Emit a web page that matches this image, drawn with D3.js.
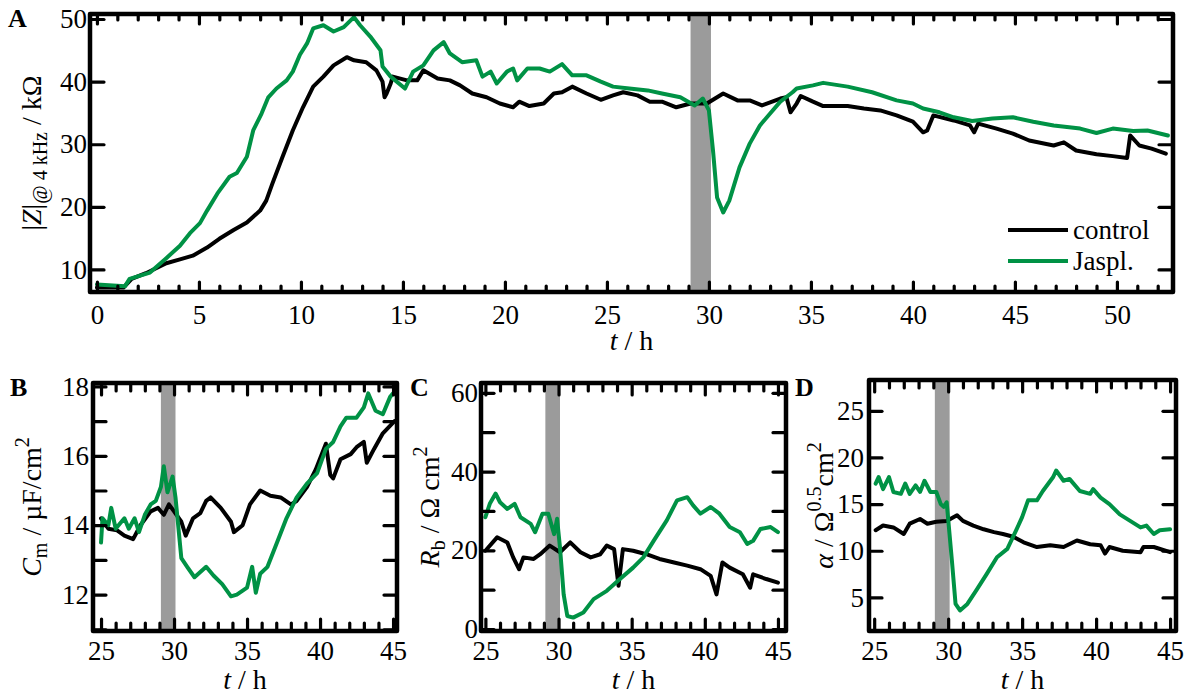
<!DOCTYPE html>
<html>
<head>
<meta charset="utf-8">
<script src="https://cdn.jsdelivr.net/npm/d3@7"></script>
<style>
  body { margin: 0; background: #fff; }
</style>
</head>
<body>
<svg id="fig" width="1186" height="691"></svg>
<script>
// ---- Panel A: |Z| at 4 kHz over the whole run (t in h, value in kΩ)
const zControl = [
  [0,7.1],[1.3,7.1],[1.7,8.5],[2.4,9.4],[3.4,11],[4.07,11.6],[4.7,12.2],[5.4,13.5],[6.0,14.9],
  [6.7,16.3],[7.35,17.5],[8.0,19.4],[8.3,21],[8.6,23.7],[9.1,28],[9.6,32.2],[10.1,35.9],[10.6,39.2],
  [11.1,40.8],[11.6,42.6],[12.25,43.9],[12.6,43.4],[13.2,43.1],[13.7,41.8],[14.0,40],[14.1,37.5],
  [14.2,38.1],[14.4,39.7],[14.5,40.8],[15.2,40.2],[15.7,40.2],[16.0,41.8],[16.7,40.5],[17.3,40.2],
  [17.8,39.4],[18.4,38.1],[19.1,37.5],[19.75,36.5],[20.4,35.9],[20.7,36.8],[21.2,36.1],[21.9,36.5],
  [22.4,38.1],[22.8,38.3],[23.3,39.2],[24.0,38.1],[24.7,37.1],[25.3,37.8],[25.8,38.3],[26.5,37.8],
  [27.1,36.8],[27.7,36.8],[28.4,35.9],[29.1,36.5],[29.9,36.5],[30.7,38.1],[31.4,37],[32.0,37],
  [32.6,36.2],[33.5,37.3],[33.8,37.5],[34.0,35.1],[34.3,36.5],[34.5,37.7],[35.1,36.8],[35.6,36.1],
  [36.8,36.1],[37.6,35.7],[38.4,35.4],[39.2,34.6],[40.0,33.6],[40.5,31.9],[40.7,32.2],[41.0,34.6],
  [42.0,33.8],[42.8,33],[43.0,31.9],[43.2,33.3],[44.1,32.5],[44.9,31.7],[45.7,30.6],[46.9,29.8],
  [47.4,30.3],[48.0,29],[49.0,28.4],[49.8,28.1],[50.5,27.8],[50.65,31.4],[51.1,29.8],[51.7,29.3],
  [52.4,28.5]
];
const zJaspl = [
  [0,7.6],[1.37,7.3],[1.6,8.5],[2.6,9.5],[3.4,11.8],[4.07,13.8],[4.56,15.8],[5.05,17.4],[5.4,19.4],
  [5.9,22.1],[6.5,24.8],[6.86,25.4],[7.35,28],[7.66,32.2],[8.07,34.9],[8.4,37.5],[8.8,38.9],
  [9.3,40.2],[9.6,41.6],[9.95,44.3],[10.3,46.1],[10.6,48.5],[11.1,49],[11.6,48],[12.1,48.7],
  [12.6,50.3],[12.9,49],[13.4,47.2],[13.9,45],[14.0,42.4],[14.4,40.8],[15.1,38.9],[15.5,41.6],
  [16.0,42.6],[16.5,45],[17.0,46.3],[17.3,44.5],[17.9,43.1],[18.6,43.4],[18.9,40.8],[19.3,41.6],
  [19.6,39.7],[20.1,41.6],[20.4,42.1],[20.6,40.2],[21.1,42.1],[21.7,42.1],[22.2,41.6],[22.8,42.8],
  [23.3,41],[24.0,41],[24.7,40],[25.3,39.2],[26.1,38.9],[27.0,38.6],[27.7,38.1],[28.6,37.5],
  [29.3,36.2],[29.7,37.3],[30.0,35.4],[30.2,29],[30.4,21.5],[30.7,19.1],[31.0,21],[31.5,26.3],
  [32.0,30.1],[32.5,33],[33.0,34.9],[33.5,36.8],[34.1,38.3],[34.3,38.9],[35.1,39.4],[35.6,39.8],
  [36.8,39.2],[38.0,38.3],[39.2,37],[40.0,36.5],[40.5,35.7],[41.3,35.1],[42.0,34.3],[42.9,33.7],
  [43.9,34.1],[44.9,34.3],[45.9,33.6],[46.9,33],[48.2,32.5],[49.0,31.8],[49.8,32.5],[50.8,32.1],
  [51.5,32.2],[52.5,31.4]
];

// ---- Panel B: membrane capacitance Cm (µF/cm²)
const cmControl = [
  [25,14.2],[25.5,13.9],[26.1,13.85],[26.6,13.7],[27.2,13.6],[27.7,14.0],[28.4,14.4],[28.9,14.5],
  [29.3,14.3],[29.65,14.6],[30.0,14.4],[30.5,14.1],[30.8,13.7],[31.3,14.2],[31.8,14.35],[32.2,14.7],
  [32.5,14.8],[33.2,14.5],[33.9,14.1],[34.1,13.8],[34.7,14.0],[35.2,14.6],[35.9,15.0],[36.6,14.85],
  [37.3,14.8],[38.0,14.6],[38.4,14.7],[39.1,15.1],[39.7,15.6],[40.4,16.35],[40.7,15.45],[40.9,15.35],
  [41.4,15.9],[42.1,16.05],[42.5,16.25],[43.0,16.4],[43.2,15.8],[43.7,16.2],[44.3,16.65],[45.1,17.0]
];
const cmJaspl = [
  [25,13.5],[25.1,14.2],[25.5,14.0],[25.7,14.5],[26.0,13.9],[26.6,14.2],[26.9,13.9],[27.3,14.2],
  [27.6,13.8],[28.0,14.3],[28.4,14.6],[28.75,14.7],[29.1,15.1],[29.3,15.7],[29.55,14.95],[29.9,15.4],
  [30.1,14.8],[30.5,13.05],[30.9,12.8],[31.4,12.5],[32.2,12.8],[32.7,12.55],[33.3,12.3],[33.9,11.95],
  [34.3,12.0],[35.0,12.2],[35.35,12.8],[35.6,12.05],[35.9,12.6],[36.4,12.8],[37.1,13.55],[37.7,14.2],
  [38.4,14.8],[39.1,15.2],[39.8,15.5],[40.4,16.2],[40.9,16.4],[41.4,16.85],[41.8,17.1],[42.5,17.1],
  [43.0,17.4],[43.3,17.8],[43.8,17.3],[44.3,17.2],[44.8,17.7],[45.0,17.8]
];

// ---- Panel C: barrier resistance Rb (Ω cm²)
const rbControl = [
  [25,19.9],[25.8,23.3],[26.5,22.0],[26.9,18.2],[27.3,15.2],[27.6,18.2],[28.3,17.8],[28.75,19.0],
  [29.4,21.2],[30.1,19.5],[30.8,22.0],[31.5,19.5],[32.2,18.2],[32.85,19.0],[33.3,21.2],[33.8,20.3],
  [34.1,11.0],[34.4,20.3],[35.1,19.9],[36.0,19.0],[36.9,17.8],[37.9,16.9],[38.8,16.1],[39.7,15.2],
  [40.4,13.5],[40.8,8.8],[41.2,16.9],[41.7,15.6],[42.6,13.9],[43.1,10.5],[43.3,13.9],[44.2,12.7],
  [45.0,11.8]
];
const rbJaspl = [
  [25,28.4],[25.3,31.8],[25.7,34.4],[26.0,32.2],[26.5,30.5],[27.0,31.8],[27.4,28.4],[28.1,26.7],
  [28.4,24.6],[28.9,29.3],[29.3,29.3],[29.7,24.1],[29.9,28.0],[30.1,20.7],[30.35,8.8],[30.6,3.3],
  [31.0,2.9],[31.7,4.2],[32.4,7.6],[33.3,9.7],[34.2,12.7],[35.1,15.6],[35.8,18.2],[36.5,22.4],
  [37.4,27.6],[38.1,32.7],[38.8,33.5],[39.2,31.4],[39.7,29.3],[40.4,31.0],[41.0,29.3],[41.7,25.9],
  [42.4,24.6],[42.9,21.6],[43.3,22.4],[43.8,25.4],[44.5,25.9],[45.0,24.6]
];

// ---- Panel D: alpha (Ω^0.5 cm²)
const alphaControl = [
  [25.1,12.2],[25.6,12.7],[26.3,12.5],[27.0,11.8],[27.4,12.9],[28.1,13.4],[28.6,12.9],[29.2,13.1],
  [29.9,13.2],[30.6,13.8],[31.0,13.2],[31.7,12.7],[32.4,12.3],[33.1,12.0],[33.7,11.8],[34.4,11.5],
  [35.1,10.9],[36.0,10.4],[36.9,10.6],[37.8,10.4],[38.7,11.1],[39.6,10.7],[40.3,10.6],[40.6,9.7],
  [40.9,10.4],[41.8,10.0],[43.0,9.85],[43.2,10.4],[43.9,10.4],[45.0,9.85]
];
const alphaJaspl = [
  [25.1,17.2],[25.3,17.9],[25.6,16.6],[26.0,17.9],[26.3,16.3],[26.8,16.1],[27.1,17.2],[27.4,16.1],
  [27.8,17.0],[28.1,16.3],[28.4,17.5],[28.8,16.3],[29.2,16.3],[29.5,15.0],[29.7,14.7],[29.9,15.2],
  [30.25,9.0],[30.5,4.3],[30.8,3.6],[31.3,4.3],[31.9,5.75],[32.6,7.5],[33.3,9.3],[34.0,10.2],
  [34.6,12.2],[35.0,13.6],[35.4,15.4],[36.0,15.4],[36.4,16.4],[37.1,17.9],[37.3,18.6],[37.8,17.5],
  [38.2,17.7],[38.9,16.4],[39.6,16.1],[39.8,16.6],[40.3,15.7],[40.9,15.0],[41.6,13.9],[42.3,13.2],
  [43.0,12.5],[43.4,12.7],[43.9,11.8],[44.3,12.2],[45.0,12.3]
];

// Treatment window (h)
const treatWindow = [29.1, 30.1];

// Tick values
const aXMajor = [0,5,10,15,20,25,30,35,40,45,50];
const aYTicks = [10,20,30,40,50];
const subXMajor = [25,30,35,40,45];
const bYTicks = [11,12,13,14,15,16,17,18];
const bYLabels = [12,14,16,18];
const cYTicks = [0,10,20,30,40,50,60];
const cYLabels = [0,20,40,60];
const dYTicks = [5,10,15,20,25];

const legendLabels = ["control", "Jaspl."];
const colors = { control: "#000000", jaspl: "#009245", band: "#9b9b9b" };
const FONT = "Liberation Serif";

const svg = d3.select("#fig").style("font-family", FONT);

function drawPanel(o) {
  const g = svg.append("g");
  const x = d3.scaleLinear().domain(o.xDomain).range([o.left, o.right]);
  const y = d3.scaleLinear().domain(o.yDomain).range([o.bottom, o.top]);
  const clipId = "clip-" + o.id;
  g.append("clipPath").attr("id", clipId).append("rect")
    .attr("x", o.left).attr("y", o.top).attr("width", o.right - o.left).attr("height", o.bottom - o.top);

  // treatment band
  g.append("rect")
    .attr("x", x(treatWindow[0])).attr("y", o.top)
    .attr("width", x(treatWindow[1]) - x(treatWindow[0])).attr("height", o.bottom - o.top)
    .attr("fill", colors.band);

  const line = d3.line().x(d => x(d[0])).y(d => y(d[1]));
  const lines = g.append("g").attr("clip-path", `url(#${clipId})`);
  lines.append("path").datum(o.control).attr("d", line)
    .attr("fill", "none").attr("stroke", colors.control).attr("stroke-width", 4)
    .attr("stroke-linejoin", "round").attr("stroke-linecap", "round");
  lines.append("path").datum(o.jaspl).attr("d", line)
    .attr("fill", "none").attr("stroke", colors.jaspl).attr("stroke-width", 4)
    .attr("stroke-linejoin", "round").attr("stroke-linecap", "round");

  const xMinor = d3.range(Math.ceil(o.xDomain[0]), Math.floor(o.xDomain[1]) + 1)
    .filter(v => !o.xMajor.includes(v));

  const styleAxis = sel => {
    sel.attr("font-family", FONT);
    sel.select(".domain").remove();
    sel.selectAll(".tick line").attr("stroke", "#000").attr("stroke-width", 3.2).attr("stroke-linecap", "round");
    sel.selectAll(".tick text").style("font-family", FONT).style("font-size", "27px").attr("fill", "#000");
  };

  // bottom axis (labels + major), minor
  g.append("g").attr("transform", `translate(0,${o.bottom})`)
    .call(d3.axisBottom(x).tickValues(o.xMajor).tickSize(-o.xMajorLen).tickPadding(o.xPad).tickFormat(d3.format("d")))
    .call(styleAxis);
  g.append("g").attr("transform", `translate(0,${o.bottom})`)
    .call(d3.axisBottom(x).tickValues(xMinor).tickSize(-o.xMinorLen).tickFormat(""))
    .call(styleAxis);
  // top axis
  g.append("g").attr("transform", `translate(0,${o.top})`)
    .call(d3.axisTop(x).tickValues(o.xMajor).tickSize(-o.xMajorLen).tickFormat(""))
    .call(styleAxis);
  g.append("g").attr("transform", `translate(0,${o.top})`)
    .call(d3.axisTop(x).tickValues(xMinor).tickSize(-o.xMinorLen).tickFormat(""))
    .call(styleAxis);
  // left axis
  g.append("g").attr("transform", `translate(${o.left},0)`)
    .call(d3.axisLeft(y).tickValues(o.yTicks).tickSize(-o.yLen).tickPadding(o.yPad)
      .tickFormat(v => o.yLabels.includes(v) ? d3.format("d")(v) : ""))
    .call(styleAxis);
  // right axis
  g.append("g").attr("transform", `translate(${o.right},0)`)
    .call(d3.axisRight(y).tickValues(o.yTicks).tickSize(-o.yLen).tickFormat(""))
    .call(styleAxis);

  // frame
  g.append("rect").attr("x", o.left).attr("y", o.top)
    .attr("width", o.right - o.left).attr("height", o.bottom - o.top)
    .attr("fill", "none").attr("stroke", "#000").attr("stroke-width", 4.5).attr("stroke-linejoin", "round");

  // panel letter
  g.append("text").attr("x", o.letterX).attr("y", o.letterY)
    .style("font-family", FONT).style("font-size", "26px").style("font-weight", "bold").text(o.letter);

  // x title: t / h
  const xt = g.append("text").attr("x", (o.left + o.right) / 2).attr("y", o.xTitleY)
    .attr("text-anchor", "middle").style("font-family", FONT).style("font-size", "28px");
  xt.append("tspan").style("font-style", "italic").text("t");
  xt.append("tspan").text(" / h");

  // y title
  const yt = g.append("text")
    .attr("transform", `translate(${o.yTitleX},${(o.top + o.bottom) / 2}) rotate(-90)`)
    .attr("text-anchor", "middle").style("font-family", FONT).style("font-size", "28px");
  o.yTitle(yt);

  return { g, x, y };
}

// Panel A
const pA = drawPanel({
  id: "A", left: 90, right: 1173, top: 14, bottom: 292,
  xDomain: [-0.34, 52.75], yDomain: [6.4, 50.8],
  xMajor: aXMajor, xMajorLen: 10, xMinorLen: 6, xPad: 13,
  yTicks: aYTicks, yLabels: aYTicks, yLen: 14, yPad: 3,
  control: zControl, jaspl: zJaspl,
  letter: "A", letterX: 8, letterY: 27, xTitleY: 350, yTitleX: 41,
  yTitle: t => {
    t.append("tspan").text("|");
    t.append("tspan").style("font-style", "italic").text("Z");
    t.append("tspan").text("|");
    t.append("tspan").style("font-size", "20px").attr("dy", 6).text("@ 4 kHz");
    t.append("tspan").attr("dy", -6).text(" / kΩ");
  }
});

// legend in panel A
const legY = [230, 261];
const legColors = [colors.control, colors.jaspl];
legendLabels.forEach((lab, i) => {
  pA.g.append("line").attr("x1", 1008).attr("x2", 1068).attr("y1", legY[i]).attr("y2", legY[i])
    .attr("stroke", legColors[i]).attr("stroke-width", 4);
  pA.g.append("text").attr("x", 1073).attr("y", legY[i]).attr("dy", "0.32em")
    .style("font-family", FONT).style("font-size", "27px").text(lab);
});

// Panel B
drawPanel({
  id: "B", left: 93, right: 397, top: 383, bottom: 631,
  xDomain: [24.45, 45.27], yDomain: [10.95, 18.1],
  xMajor: subXMajor, xMajorLen: 12, xMinorLen: 8, xPad: 10,
  yTicks: bYTicks, yLabels: bYLabels, yLen: 13, yPad: 4,
  control: cmControl, jaspl: cmJaspl,
  letter: "B", letterX: 10, letterY: 396, xTitleY: 689, yTitleX: 41,
  yTitle: t => {
    t.append("tspan").style("font-style", "italic").text("C");
    t.append("tspan").style("font-size", "20px").attr("dy", 6).text("m");
    t.append("tspan").attr("dy", -6).text(" / µF/cm");
    t.append("tspan").style("font-size", "20px").attr("dy", -12).text("2");
  }
});

// Panel C
drawPanel({
  id: "C", left: 481, right: 786, top: 383, bottom: 631,
  xDomain: [24.7, 45.55], yDomain: [-0.5, 62.5],
  xMajor: subXMajor, xMajorLen: 12, xMinorLen: 8, xPad: 10,
  yTicks: cYTicks, yLabels: cYLabels, yLen: 13, yPad: 3,
  control: rbControl, jaspl: rbJaspl,
  letter: "C", letterX: 410, letterY: 396, xTitleY: 689, yTitleX: 439,
  yTitle: t => {
    t.append("tspan").style("font-style", "italic").text("R");
    t.append("tspan").style("font-size", "20px").attr("dy", 6).text("b");
    t.append("tspan").attr("dy", -6).text(" / Ω cm");
    t.append("tspan").style("font-size", "20px").attr("dy", -12).text("2");
  }
});

// Panel D
drawPanel({
  id: "D", left: 869, right: 1176, top: 380, bottom: 631,
  xDomain: [24.65, 45.4], yDomain: [1.4, 28.3],
  xMajor: subXMajor, xMajorLen: 12, xMinorLen: 8, xPad: 10,
  yTicks: dYTicks, yLabels: dYTicks, yLen: 13, yPad: 5,
  control: alphaControl, jaspl: alphaJaspl,
  letter: "D", letterX: 795, letterY: 396, xTitleY: 689, yTitleX: 833,
  yTitle: t => {
    t.append("tspan").style("font-style", "italic").text("α");
    t.append("tspan").text(" / Ω");
    t.append("tspan").style("font-size", "20px").attr("dy", -12).text("0.5");
    t.append("tspan").attr("dy", 12).text("cm");
    t.append("tspan").style("font-size", "20px").attr("dy", -12).text("2");
  }
});
</script>
</body>
</html>
